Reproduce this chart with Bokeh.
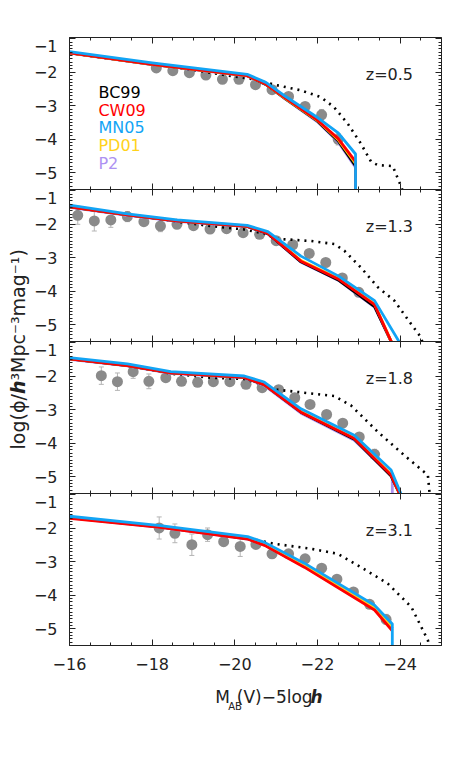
import numpy as np
from bokeh.plotting import figure
from bokeh.layouts import column, row
from bokeh.models import (Range1d, SingleIntervalTicker, FixedTicker, LinearAxis,
                          Whisker, ColumnDataSource, TeeHead, CustomJSTickFormatter)
from bokeh.embed import file_html
from bokeh.resources import INLINE
from bokeh.core.properties import value

FONT = "DejaVu Sans"

# ---------------- data ----------------
z_labels = ["z=0.5", "z=1.3", "z=1.8", "z=3.1"]
model_names = ["BC99", "CW09", "MN05", "PD01", "P2"]
y_tick_values = [-5, -4, -3, -2, -1]

# z = 0.5
mx_z05 = [-16, -18, -20.3, -20.75, -21.2, -22.0, -22.5, -22.92, -22.92]
bc99_z05 = [-1.42, -1.76, -2.10, -2.36, -2.77, -3.46, -4.05, -4.80, -5.6]
cw09_z05 = [-1.42, -1.76, -2.10, -2.35, -2.75, -3.43, -3.98, -4.67, -5.6]
mn05_z05 = [-1.38, -1.72, -2.06, -2.30, -2.70, -3.35, -3.81, -4.44, -5.6]
pd01_z05 = [-1.42, -1.76, -2.10, -2.35, -2.76, -3.44, -4.01, -4.72, -5.6]
p2_z05 = [-1.43, -1.77, -2.11, -2.37, -2.78, -3.48, -4.08, -4.84, -5.6]
dot_x_z05 = [-16, -18, -19.0, -20.0, -20.4, -21.0, -21.6, -22.08, -22.4, -22.73,
             -23.05, -23.3, -23.46, -23.82, -24.02, -24.08]
dot_y_z05 = [-1.42, -1.77, -1.93, -2.13, -2.20, -2.38, -2.54, -2.74, -3.04, -3.53,
             -4.13, -4.68, -4.77, -4.80, -5.4, -5.6]
obs_x_z05 = [-18.1, -18.5, -18.9, -19.3, -19.7, -20.1, -20.5, -20.9, -21.3, -21.7, -22.1, -22.5]
obs_y_z05 = [-1.87, -1.95, -2.01, -2.08, -2.21, -2.21, -2.37, -2.52, -2.72, -3.02, -3.27, -4.0]
obs_e_z05 = [0.05, 0.05, 0.05, 0.05, 0.05, 0.05, 0.05, 0.05, 0.06, 0.08, 0.16, 0.17]

# z = 1.3
mx_z13 = [-16, -17.4, -18.6, -20.3, -20.8, -21.6, -22.5, -23.38, -23.82]
mn05_x_z13 = [-16, -17.4, -18.6, -20.3, -20.8, -21.6, -22.5, -23.38, -24.02]
bc99_z13 = [-1.48, -1.72, -1.90, -2.06, -2.28, -3.12, -3.66, -4.46, -5.6]
cw09_z13 = [-1.48, -1.72, -1.90, -2.06, -2.27, -3.10, -3.63, -4.40, -5.6]
mn05_z13 = [-1.43, -1.69, -1.87, -2.03, -2.22, -2.95, -3.54, -4.28, -5.6]
pd01_z13 = [-1.47, -1.71, -1.89, -2.05, -2.26, -3.08, -3.61, -4.38, -5.6]
p2_z13 = [-1.49, -1.73, -1.91, -2.07, -2.29, -3.13, -3.67, -4.47, -5.6]
dot_x_z13 = [-16, -17.4, -18.6, -19.4, -20.2, -20.7, -21.0, -21.85, -22.41, -22.65, -23.05,
             -23.46, -23.86, -24.26, -24.5, -24.56]
dot_y_z13 = [-1.47, -1.71, -1.92, -2.05, -2.15, -2.27, -2.43, -2.50, -2.59, -2.79, -3.29,
             -3.88, -4.28, -4.97, -5.37, -5.6]
obs_x_z13 = [-16.2, -16.6, -17.0, -17.4, -17.8, -18.2, -18.6, -19.0, -19.4, -19.8,
             -20.2, -20.6, -21.0, -21.4, -21.8, -22.2, -22.6, -23.0]
obs_y_z13 = [-1.73, -1.90, -1.87, -1.77, -1.92, -2.05, -2.00, -2.04, -2.14, -2.13,
             -2.25, -2.30, -2.49, -2.61, -2.87, -3.14, -3.60, -4.03]
obs_e_z13 = [0.27, 0.30, 0.22, 0.15, 0.08, 0.17, 0.12, 0.10, 0.06, 0.05,
             0.05, 0.05, 0.05, 0.05, 0.05, 0.05, 0.05, 0.05]

# z = 1.8
mx_z18 = [-16, -17.4, -18.45, -20.23, -20.71, -21.6, -22.89, -23.78, -24.02]
mn05_x_z18 = [-16, -17.4, -18.45, -20.23, -20.71, -21.6, -22.89, -23.78, -24.05]
p2_x_z18 = [-16, -17.4, -18.45, -20.23, -20.71, -21.6, -22.89, -23.81, -23.81]
bc99_z18 = [-1.48, -1.68, -1.90, -2.03, -2.25, -3.07, -3.88, -4.98, -5.6]
cw09_z18 = [-1.48, -1.68, -1.90, -2.03, -2.25, -3.07, -3.86, -4.95, -5.6]
mn05_z18 = [-1.44, -1.63, -1.86, -1.99, -2.17, -2.97, -3.76, -4.80, -5.6]
pd01_z18 = [-1.47, -1.67, -1.89, -2.02, -2.24, -3.05, -3.84, -4.92, -5.6]
p2_z18 = [-1.49, -1.69, -1.91, -2.04, -2.27, -3.10, -3.91, -5.00, -5.6]
dot_x_z18 = [-16, -17.4, -18.45, -19.42, -20.23, -20.79, -21.03, -22.41, -22.81, -23.46,
             -24.1, -24.67, -24.72]
dot_y_z18 = [-1.47, -1.67, -1.92, -2.04, -2.08, -2.30, -2.40, -2.59, -2.87, -3.66,
             -4.36, -4.95, -5.6]
obs_x_z18 = [-16.77, -17.16, -17.54, -17.92, -18.33, -18.71, -19.10, -19.48, -19.88,
             -20.27, -20.66, -21.06, -21.45, -21.82, -22.22, -22.61, -23.01, -23.38]
obs_y_z18 = [-1.98, -2.16, -1.86, -2.15, -2.04, -2.15, -2.18, -2.16, -2.16,
             -2.24, -2.34, -2.40, -2.64, -2.84, -3.14, -3.40, -3.81, -4.33]
obs_e_z18 = [0.26, 0.26, 0.20, 0.22, 0.06, 0.06, 0.05, 0.05, 0.05,
             0.05, 0.05, 0.05, 0.05, 0.05, 0.05, 0.05, 0.05, 0.15]

# z = 3.1
mx_z31 = [-16, -18.2, -20.31, -20.72, -21.68, -23.38, -23.81]
mn05_x_z31 = [-16, -18.2, -20.31, -20.72, -21.68, -23.38, -23.81, -23.81]
bc99_z31 = [-1.68, -1.96, -2.31, -2.49, -3.13, -4.40, -5.00]
cw09_z31 = [-1.70, -1.97, -2.32, -2.51, -3.16, -4.44, -5.06]
mn05_z31 = [-1.64, -1.92, -2.25, -2.42, -3.04, -4.30, -4.86, -5.6]
pd01_z31 = [-1.67, -1.95, -2.30, -2.48, -3.11, -4.38, -4.98]
p2_z31 = [-1.69, -1.97, -2.32, -2.50, -3.14, -4.42, -5.02]
dot_x_z31 = [-16, -18.2, -18.6, -19.42, -20.23, -20.95, -21.84, -22.49, -23.05, -23.70,
             -24.27, -24.67, -24.72]
dot_y_z31 = [-1.68, -1.95, -2.00, -2.17, -2.27, -2.46, -2.61, -2.76, -3.16, -3.65,
             -4.35, -5.34, -5.6]
obs_x_z31 = [-18.17, -18.55, -18.96, -19.34, -19.73, -20.13, -20.51, -20.90, -21.30,
             -21.70, -22.10, -22.47, -22.87, -23.26, -23.66]
obs_y_z31 = [-1.99, -2.15, -2.49, -2.19, -2.40, -2.54, -2.48, -2.76, -2.76,
             -2.91, -3.19, -3.52, -3.90, -4.27, -4.72]
obs_e_z31 = [0.33, 0.28, 0.32, 0.20, 0.10, 0.30, 0.08, 0.12, 0.05,
             0.05, 0.05, 0.05, 0.10, 0.05, 0.15]

# ---------------- styles ----------------
COL = {"BC99": "#000000", "CW09": "#ff0000", "MN05": "#12a4f5",
       "PD01": "#ffd21a", "P2": "#ad92f2"}
DRAW_ORDER = ["P2", "BC99", "PD01", "CW09", "MN05"]
AXC = "#222222"
TXC = "#222222"
FRAME_W, FRAME_H = 372, 152
YT_W = 30
LEFT_B, RIGHT_B = 39, 6
TOP_B, BOT_B = 37, 36
XT_H = 30

panels = [
    dict(z=z_labels[0],
         lines={"BC99": (mx_z05, bc99_z05), "CW09": (mx_z05, cw09_z05),
                "MN05": (mx_z05, mn05_z05), "PD01": (mx_z05, pd01_z05),
                "P2": (mx_z05, p2_z05)},
         dot=(dot_x_z05, dot_y_z05), obs=(obs_x_z05, obs_y_z05, obs_e_z05)),
    dict(z=z_labels[1],
         lines={"BC99": (mx_z13, bc99_z13), "CW09": (mx_z13, cw09_z13),
                "MN05": (mn05_x_z13, mn05_z13), "PD01": (mx_z13, pd01_z13),
                "P2": (mx_z13, p2_z13)},
         dot=(dot_x_z13, dot_y_z13), obs=(obs_x_z13, obs_y_z13, obs_e_z13)),
    dict(z=z_labels[2],
         lines={"BC99": (mx_z18, bc99_z18), "CW09": (mx_z18, cw09_z18),
                "MN05": (mn05_x_z18, mn05_z18), "PD01": (mx_z18, pd01_z18),
                "P2": (p2_x_z18, p2_z18)},
         dot=(dot_x_z18, dot_y_z18), obs=(obs_x_z18, obs_y_z18, obs_e_z18)),
    dict(z=z_labels[3],
         lines={"BC99": (mx_z31, bc99_z31), "CW09": (mx_z31, cw09_z31),
                "MN05": (mn05_x_z31, mn05_z31), "PD01": (mx_z31, pd01_z31),
                "P2": (mx_z31, p2_z31)},
         dot=(dot_x_z31, dot_y_z31), obs=(obs_x_z31, obs_y_z31, obs_e_z31)),
]

minus_fmt = CustomJSTickFormatter(code="""
    const v = Math.round(tick);
    return (v < 0 ? "\\u2212" : "") + Math.abs(v).toString();
""")
blank_fmt = CustomJSTickFormatter(code="return '';")


def style_ticks(ax, kind):
    ax.axis_line_color = AXC
    ax.axis_line_width = 1
    ax.major_tick_in = 6
    ax.major_tick_out = 0
    ax.minor_tick_in = 3
    ax.minor_tick_out = 0
    ax.major_tick_line_color = AXC
    ax.minor_tick_line_color = AXC
    ax.axis_label = None
    if kind == "x":
        ax.ticker = SingleIntervalTicker(interval=2, num_minor_ticks=4)
    else:
        ax.ticker = SingleIntervalTicker(interval=1, num_minor_ticks=10)


def hide_labels(ax):
    ax.formatter = blank_fmt
    ax.major_label_text_font_size = "0px"
    ax.major_label_standoff = 0
    ax.axis_label_standoff = 0


figs = []
for i, pan in enumerate(panels):
    is_top = i == 0
    is_bot = i == len(panels) - 1
    p = figure(frame_width=FRAME_W, frame_height=FRAME_H,
               x_range=Range1d(-16, -25), y_range=Range1d(-5.5, -0.96),
               output_backend="svg", toolbar_location=None,
               min_border_left=LEFT_B, min_border_right=RIGHT_B,
               min_border_top=TOP_B if is_top else 0,
               min_border_bottom=BOT_B if is_bot else 0)
    p.outline_line_color = None
    p.xgrid.visible = False
    p.ygrid.visible = False
    p.background_fill_color = "white"
    p.border_fill_color = "white"

    xa = p.xaxis[0]
    style_ticks(xa, "x")
    if is_bot:
        xa.formatter = minus_fmt
        xa.major_label_text_font = FONT
        xa.major_label_text_font_size = "16px"
        xa.major_label_text_color = TXC
        xa.major_label_standoff = 12
    else:
        hide_labels(xa)
    ya = p.yaxis[0]
    style_ticks(ya, "y")
    hide_labels(ya)
    # numbers of the y axis (the top "-1" sits just under the edge, as drawn)
    lab_ax = LinearAxis(ticker=FixedTicker(ticks=[t if t != -1 else -1.22 for t in y_tick_values],
                                           minor_ticks=[]),
                        formatter=minus_fmt, axis_line_color=None,
                        major_tick_in=0, major_tick_out=0, minor_tick_in=0, minor_tick_out=0,
                        major_label_text_font=FONT, major_label_text_font_size="16px",
                        major_label_text_color=TXC, major_label_standoff=12)
    p.add_layout(lab_ax, "left")
    top_ax = LinearAxis()
    right_ax = LinearAxis()
    style_ticks(top_ax, "x")
    style_ticks(right_ax, "y")
    hide_labels(top_ax)
    hide_labels(right_ax)
    p.add_layout(top_ax, "above")
    p.add_layout(right_ax, "right")

    ox, oy, oe = pan["obs"]
    src = ColumnDataSource(dict(x=ox, y=oy,
                                upper=[a + b for a, b in zip(oy, oe)],
                                lower=[a - b for a, b in zip(oy, oe)]))
    p.add_layout(Whisker(source=src, base="x", upper="upper", lower="lower",
                         line_color="#b4b4b4", line_width=1,
                         upper_head=TeeHead(size=5, line_color="#b4b4b4", line_width=1),
                         lower_head=TeeHead(size=5, line_color="#b4b4b4", line_width=1)))
    p.scatter("x", "y", source=src, size=11, fill_color="#8a8a8a", line_color=None)

    dx, dy = pan["dot"]
    p.line(dx, dy, line_color="black", line_width=2.6, line_dash="2 5")

    for name in DRAW_ORDER:
        lx, ly = pan["lines"][name]
        p.line(lx, ly, line_color=COL[name], line_width=2.8, line_join="round")

    p.text(x=[-24.31], y=[-2.07], text=[pan["z"]], text_font=value(FONT),
           text_font_size="16px", text_color=TXC, text_align="right",
           text_baseline="alphabetic")

    if is_top:
        leg_y = [-2.60, -3.13, -3.66, -4.19, -4.72]
        p.text(x=[-16.70] * 5, y=leg_y, text=model_names, text_font=value(FONT),
               text_font_size="16px", text_color=[COL[m] for m in model_names],
               text_align="left", text_baseline="alphabetic")
    figs.append(p)

# ---- x title ----
XT_W = LEFT_B + FRAME_W + RIGHT_B
xt = figure(width=XT_W, height=XT_H, x_range=Range1d(YT_W, YT_W + XT_W),
            y_range=Range1d(XT_H, 0), output_backend="svg", toolbar_location=None,
            x_axis_location=None, y_axis_location=None, min_border=0)
xt.outline_line_color = None
xt.grid.visible = False
xt_parts = [("M", 201.7, 15, "17px", "normal"),
            ("AB", 215.5, 25, "10px", "normal"),
            ("(V)\u22125log", 260.0, 15, "17px", "normal"),
            ("h", 307.0, 15, "17px", "bold italic")]
for txt, cx, by, fs, st in xt_parts:
    xt.text(x=[cx], y=[by], text=[txt], text_font=value(FONT), text_font_size=fs,
            text_font_style=st, text_color=TXC, text_align="center",
            text_baseline="alphabetic")

# ---- y title (rotated; bold-italic h between two plain runs) ----
COL_H = TOP_B + 4 * FRAME_H + BOT_B + XT_H
yt = figure(width=YT_W, height=COL_H, x_range=Range1d(0, YT_W), y_range=Range1d(COL_H, 0),
            output_backend="svg", toolbar_location=None,
            x_axis_location=None, y_axis_location=None, min_border=0)
yt.outline_line_color = None
yt.grid.visible = False
YFS = 19
h_w = 0.712 * YFS
P = 393.6
YX = 17.5
yt.text(x=[YX], y=[P], text=["log(\u03d5/"], angle=np.pi / 2, text_font=value(FONT),
        text_font_size=f"{YFS}px", text_color=TXC, text_align="right",
        text_baseline="middle")
yt.text(x=[YX], y=[P], text=["h"], angle=np.pi / 2, text_font=value(FONT),
        text_font_size=f"{YFS}px", text_font_style="bold italic", text_color=TXC,
        text_align="left", text_baseline="middle")
yt.text(x=[YX], y=[P - h_w], text=["\u00b3Mpc\u207b\u00b3mag\u207b\u00b9)"], angle=np.pi / 2,
        text_font=value(FONT), text_font_size=f"{YFS}px", text_color=TXC,
        text_align="left", text_baseline="middle")

layout = row(yt, column(*figs, xt))
open("out.html", "w").write(file_html(layout, INLINE))
